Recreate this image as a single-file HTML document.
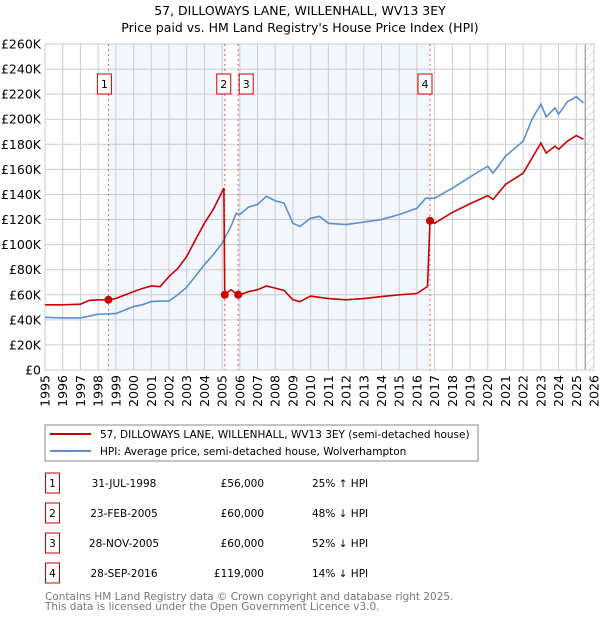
<!DOCTYPE html>
<html><head><meta charset="utf-8"><style>
body{margin:0;background:#fff;font-family:"DejaVu Sans","Liberation Sans",sans-serif;}
#wrap{position:relative;width:600px;height:620px;overflow:hidden}
</style></head><body><div id="wrap">
<svg id="chart" width="600" height="620" xmlns="http://www.w3.org/2000/svg" font-family="DejaVu Sans, Liberation Sans, sans-serif">
<text x="300" y="15" text-anchor="middle" font-size="12.5">57, DILLOWAYS LANE, WILLENHALL, WV13 3EY</text>
<text x="300" y="32" text-anchor="middle" font-size="12.5">Price paid vs. HM Land Registry's House Price Index (HPI)</text>
<defs><pattern id="hatch" width="6" height="6" patternUnits="userSpaceOnUse" patternTransform="rotate(45)"><line x1="0" y1="0" x2="0" y2="6" stroke="#bbb" stroke-width="1"/></pattern></defs>
<g id="plot"></g>
<rect x="45" y="425" width="433" height="36" fill="#fff" stroke="#888"/>
<line x1="50" y1="434" x2="91" y2="434" stroke="#cc0000" stroke-width="2"/>
<text x="100" y="438" font-size="10.5">57, DILLOWAYS LANE, WILLENHALL, WV13 3EY (semi-detached house)</text>
<line x1="50" y1="451" x2="91" y2="451" stroke="#5b8fd0" stroke-width="2"/>
<text x="100" y="455" font-size="10.5">HPI: Average price, semi-detached house, Wolverhampton</text>
<g id="table" font-size="10.5"></g>
<text x="45" y="600" font-size="10.5" fill="#777">Contains HM Land Registry data © Crown copyright and database right 2025.</text>
<text x="45" y="610" font-size="10.5" fill="#777">This data is licensed under the Open Government Licence v3.0.</text>
</svg></div>
<script>
const hpiYears=[1995,1996,1997,1997.5,1998,1999,2000,2000.5,2001,2001.5,2002,2002.5,2003,2003.5,2004,2004.5,2005,2005.5,2005.8,2006,2006.5,2007,2007.5,2008,2008.5,2009,2009.4,2010,2010.5,2011,2012,2013,2014,2015,2016,2016.5,2017,2018,2019,2020,2020.3,2021,2022,2022.5,2023,2023.3,2023.8,2024,2024.5,2025,2025.4];
const hpiValues=[42,41.5,41.5,43,44.5,45,50.6,52,54.6,55,55,60,66,75,84,92,101,114.5,125,124,130,132,138.5,135,133,117,114.5,121,122.5,117,116,118,120,124,129,137,137,145,154,162.5,157,170.5,182.5,200,212,202,209,204,214,218,213];
const ppYears=[1995,1996,1997,1997.5,1998,1998.58,1999,2000,2000.5,2001,2001.5,2002,2002.5,2003,2003.5,2004,2004.5,2005.1,2005.15,2005.5,2005.9,2006,2006.5,2007,2007.5,2008,2008.5,2009,2009.4,2010,2011,2012,2013,2014,2015,2016,2016.6,2016.74,2017,2018,2019,2020,2020.3,2021,2022,2022.5,2023,2023.3,2023.8,2024,2024.5,2025,2025.4];
const ppValues=[52,52,52.5,55.5,56,56,57,62.5,65,67,66.5,74.5,81,90.5,104,117,128,145,60,64,60,60,62.5,64,67,65.3,63.4,56,54.6,59,57,56,57,58.6,60,61,66.6,119,117,125.7,132.6,139,136,148,157,169,181,173,178.5,176,182.5,187,184];
const saleLabels=["1","2","3","4"];
const saleYears=[1998.58,2005.15,2005.91,2016.74];
const saleValues=[56,60,60,119];
const saleDates=["31-JUL-1998","23-FEB-2005","28-NOV-2005","28-SEP-2016"];
const salePrices=["£56,000","£60,000","£60,000","£119,000"];
const saleHpi=["25% ↑ HPI","48% ↓ HPI","52% ↓ HPI","14% ↓ HPI"];
const yTicks=[0,20,40,60,80,100,120,140,160,180,200,220,240,260];
const xTicks=[1995,1996,1997,1998,1999,2000,2001,2002,2003,2004,2005,2006,2007,2008,2009,2010,2011,2012,2013,2014,2015,2016,2017,2018,2019,2020,2021,2022,2023,2024,2025,2026];

const NS="http://www.w3.org/2000/svg";
const L=45,R=594,T=44,B=370;
const x=v=>L+(v-1995)/(2026-1995)*(R-L);
const y=v=>B-v/260*(B-T);
const g=document.getElementById('plot');
function mk(tag,at,parent){const e=document.createElementNS(NS,tag);for(const k in at)e.setAttribute(k,at[k]);(parent||g).appendChild(e);return e;}
let e;
e=mk('rect',{x:x(saleYears[0]),y:T,width:x(saleYears[1])-x(saleYears[0]),height:B-T,fill:'#eef3fc',opacity:0.75});


e=mk('rect',{x:x(saleYears[2]),y:T,width:x(saleYears[3])-x(saleYears[2]),height:B-T,fill:'#eef3fc',opacity:0.75});


yTicks.forEach(v=>{
 e=mk('line',{x1:L,x2:R,y1:y(v),y2:y(v),stroke:'#ccc','stroke-width':1});
 
 
 e=mk('text',{x:L-4,y:y(v)+4.5,'text-anchor':'end','font-size':12.5});
 e.textContent=v===0?'£0':'£'+v+'K';
 
 
});
xTicks.forEach(v=>{
 e=mk('line',{x1:x(v),x2:x(v),y1:T,y2:B,stroke:'#ccc','stroke-width':1});
 
 
 e=mk('text',{x:0,y:0,'text-anchor':'end','font-size':12.5,transform:`translate(${x(v)+4.5},${B+5}) rotate(-90)`});
 e.textContent=v;
 
 
});
e=mk('rect',{x:x(2025.5),y:T,width:R-x(2025.5),height:B-T,fill:'url(#hatch)'});


e=mk('line',{x1:x(2025.5),x2:x(2025.5),y1:T,y2:B,stroke:'#888','stroke-width':1});


e=mk('rect',{x:L,y:T,width:R-L,height:B-T,fill:'none',stroke:'#ccc'});


saleYears.forEach((s,i)=>{
 e=mk('line',{x1:x(s),x2:x(s),y1:T,y2:B,stroke:'#e06060','stroke-width':1,'stroke-dasharray':'2,3'});
 
 
});
e=mk('polyline',{points:hpiYears.map((v,i)=>x(v)+','+y(hpiValues[i])).join(' '),fill:'none',stroke:'#5b8fd0','stroke-width':1.6});


e=mk('polyline',{points:ppYears.map((v,i)=>x(v)+','+y(ppValues[i])).join(' '),fill:'none',stroke:'#cc0000','stroke-width':1.6});


saleYears.forEach((s,i)=>{
 e=mk('circle',{cx:x(s),cy:y(saleValues[i]),r:4,fill:'#cc0000'});
 
 
});
const lblX=[x(saleYears[0])-11,x(saleYears[1])-8,x(saleYears[2])+1,x(saleYears[3])-12];
saleLabels.forEach((s,i)=>{
 e=mk('rect',{x:lblX[i],y:74,width:14,height:20,fill:'#fff',stroke:'#cc0000'});
 
 
 e=mk('text',{x:lblX[i]+7,y:88,'text-anchor':'middle','font-size':11});
 e.textContent=s;
 
 
});
const tb=document.getElementById('table');
saleLabels.forEach((s,i)=>{
 const cy=483+i*30;
 e=mk('rect',{x:45.5,y:cy-10,width:14,height:20,fill:'#fff',stroke:'#cc0000'},tb);
 
 
 e=mk('text',{x:52.5,y:cy+4,'text-anchor':'middle'},tb);e.textContent=s;
 
 
 e=mk('text',{x:124,y:cy+4,'text-anchor':'middle'},tb);e.textContent=saleDates[i];
 
 
 e=mk('text',{x:264,y:cy+4,'text-anchor':'end'},tb);e.textContent=salePrices[i];
 
 
 e=mk('text',{x:312,y:cy+4},tb);e.textContent=saleHpi[i];
 
 
});
</script></body></html>
